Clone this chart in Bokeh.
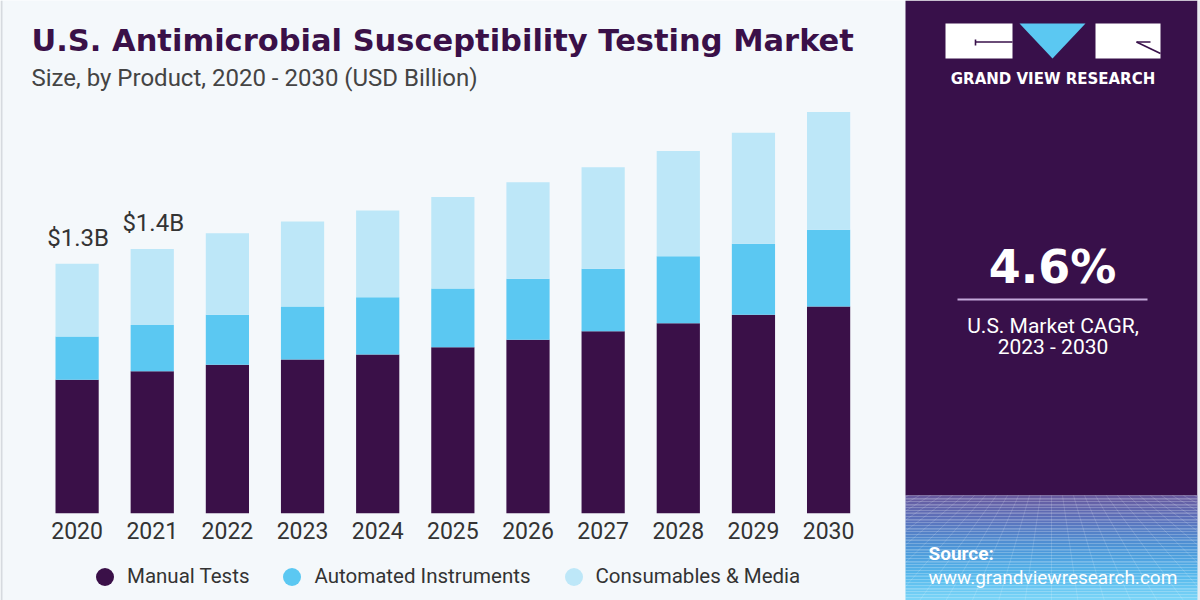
from bokeh.plotting import figure
from bokeh.models import (Range1d, Label, BoxAnnotation, PolyAnnotation, Legend,
                          LegendItem, ColumnDataSource)
from bokeh.core.properties import value
from bokeh.embed import file_html
from bokeh.resources import INLINE

# ---------------- data (USD Billion) ----------------
years = ["2020", "2021", "2022", "2023", "2024", "2025", "2026", "2027", "2028", "2029", "2030"]
manual = [0.702, 0.747, 0.781, 0.809, 0.835, 0.874, 0.913, 0.958, 1.000, 1.044, 1.088]
automated = [0.228, 0.244, 0.263, 0.279, 0.302, 0.309, 0.321, 0.328, 0.353, 0.374, 0.404]
consumables = [0.383, 0.400, 0.429, 0.447, 0.456, 0.481, 0.508, 0.535, 0.553, 0.584, 0.619]
series_names = ["Manual Tests", "Automated Instruments", "Consumables & Media"]
value_labels = ["$1.3B", "$1.4B"]

title_text = "U.S. Antimicrobial Susceptibility Testing Market"
subtitle_text = "Size, by Product, 2020 - 2030 (USD Billion)"
cagr_text = "4.6%"
cagr_label1 = "U.S. Market CAGR,"
cagr_label2 = "2023 - 2030"

# ---------------- styling / layout ----------------
colors = ["#3a1048", "#5bc8f2", "#bde7f8"]
BG = "#f4f8fb"
PANEL = "#38104a"
W, H = 1200, 600
BAR_X0 = 76.6      # pixel centre of first bar
BAR_STEP = 75.15   # pixel distance between bars
BASE_Y = 512.7     # pixel of baseline (from top)
PX_PER_B = 190.0   # pixels per billion

x_start = -BAR_X0 / BAR_STEP
x_end = x_start + W / BAR_STEP
y_start = -(H - BASE_Y) / PX_PER_B
y_end = y_start + H / PX_PER_B


def dx(px):
    return x_start + px / BAR_STEP


def dy(py):
    return y_start + (H - py) / PX_PER_B


p = figure(width=W, height=H, x_range=Range1d(x_start, x_end), y_range=Range1d(y_start, y_end),
           x_axis_type=None, y_axis_type=None, toolbar_location=None, output_backend="svg",
           min_border=0, title=None, background_fill_color=BG, border_fill_color=BG,
           outline_line_color=None)
p.xgrid.visible = False
p.ygrid.visible = False


def box(l, r, t, b, color, alpha=1.0):
    p.add_layout(BoxAnnotation(left=l, right=r, top=H - t, bottom=H - b,
                               left_units="screen", right_units="screen",
                               top_units="screen", bottom_units="screen",
                               fill_color=color, fill_alpha=alpha, line_color=None,
                               level="underlay"))


# borders
box(0, 2, 0, 600, "#d6dadf")
# right panel (purple part)
box(905, 1197, 0, 495, PANEL)
box(1197, 1200, 0, 600, "#e9ecf0")

# gradient at bottom of panel
stops = [(495, (104, 90, 158)), (518, (92, 112, 186)), (548, (76, 150, 216)),
         (575, (86, 184, 236)), (600, (124, 214, 248))]


def grad(py):
    for (y0, c0), (y1, c1) in zip(stops[:-1], stops[1:]):
        if y0 <= py <= y1:
            t = (py - y0) / (y1 - y0)
            return "#%02x%02x%02x" % tuple(int(round(a + (b - a) * t)) for a, b in zip(c0, c1))
    return "#%02x%02x%02x" % stops[-1][1]


yy = 495
while yy < 600:
    box(905, 1197, yy, min(yy + 3, 600), grad(yy + 1.5))
    yy += 3

# perspective mesh
mx, my = [], []
for hy in [499, 505, 512, 520, 529, 539, 550, 562, 575, 589]:
    mx.append([dx(905), dx(1197)])
    my.append([dy(hy), dy(hy)])
VPX, VPY = 1051.0, 420.0
for k in range(-30, 31):
    xa = VPX + k * 11
    x0, y0 = xa, 495.0
    x1 = VPX + (xa - VPX) * (600 - VPY) / (495 - VPY)
    y1 = 600.0

    def clipx(xl):
        return y0 + (y1 - y0) * (xl - x0) / (x1 - x0)

    seg = [(x0, y0), (x1, y1)]
    inside = [905 <= sx <= 1197 for sx, _ in seg]
    if not any(inside):
        continue
    if not inside[0]:
        bx = 905 if x0 < 905 else 1197
        seg[0] = (bx, clipx(bx))
    if not inside[1]:
        bx = 905 if x1 < 905 else 1197
        seg[1] = (bx, clipx(bx))
    mx.append([dx(seg[0][0]), dx(seg[1][0])])
    my.append([dy(seg[0][1]), dy(seg[1][1])])
p.multi_line(xs=mx, ys=my, line_color="white", line_alpha=0.15, line_width=1)

# logo
box(945, 1012, 23, 58, "white")
box(1095, 1160, 23, 58, "white")
p.add_layout(PolyAnnotation(xs=[1019, 1085, 1052], ys=[H - 23, H - 23, H - 58],
                            xs_units="screen", ys_units="screen", fill_color="#5bc8f2",
                            fill_alpha=1, line_color=None, level="underlay"))
p.multi_line(xs=[[dx(975), dx(1012)], [dx(975), dx(975)], [dx(1136), dx(1160)], [dx(1136), dx(1150)]],
             ys=[[dy(41.5), dy(41.5)], [dy(39), dy(45)], [dy(41.5), dy(53)], [dy(41.5), dy(41.5)]],
             line_color=PANEL, line_width=1.6)

# ---------------- bars ----------------
src = ColumnDataSource(dict(x=list(range(len(years))), manual=manual,
                            automated=automated, consumables=consumables))
p.vbar_stack(["manual", "automated", "consumables"], x="x", width=0.575, source=src,
             fill_color=colors, line_color=None)

totals = [m + a + c for m, a, c in zip(manual, automated, consumables)]

p.text(x=list(range(len(years))), y=[0] * len(years), text=years, y_offset=17.7,
       text_align="center", text_baseline="middle", text_font=value("Roboto"),
       text_font_size="23px", text_color="#333333")

p.text(x=list(range(len(value_labels))), y=totals[:len(value_labels)], text=value_labels,
       x_offset=1, y_offset=-25.7, text_align="center", text_baseline="middle",
       text_font=value("Roboto"), text_font_size="24px", text_color="#333333")

# legend (marker-only renderers, no visible data)
nan = float("nan")
dummies = [p.scatter(x=[nan], y=[nan], marker="circle", fill_color=c, line_color=None)
           for c in colors]
legend = Legend(items=[LegendItem(label=n, renderers=[r]) for n, r in zip(series_names, dummies)],
                orientation="horizontal", location=(82, 1.5), glyph_width=45, glyph_height=45,
                label_standoff=-6, spacing=20, padding=0, margin=0, border_line_color=None,
                background_fill_alpha=0, label_text_font="Roboto", label_text_font_size="20.5px",
                label_text_color="#333333")
p.add_layout(legend)


# ---------------- texts ----------------
def label(x, ymid, text, font, size, color, bold=False, align="left"):
    p.add_layout(Label(x=x, y=H - ymid, x_units="screen", y_units="screen", text=text,
                       text_font=font, text_font_size=size, text_color=color,
                       text_font_style="bold" if bold else "normal", text_align=align,
                       text_baseline="middle"))


label(31, 40, title_text, "DejaVu Sans", "30.5px", "#3a1048", bold=True)
label(31, 77, subtitle_text, "Roboto", "24px", "#444444")

label(1052.5, 78.5, "GRAND VIEW RESEARCH", "DejaVu Sans", "15px", "white", bold=True, align="center")
label(1052, 266, cagr_text, "DejaVu Sans", "46px", "white", bold=True, align="center")
box(957, 1147, 298, 300, "#c3a8da")
label(1052.5, 325, cagr_label1, "Roboto", "21px", "white", align="center")
label(1052.5, 346, cagr_label2, "Roboto", "21px", "white", align="center")

label(928, 553, "Source:", "Roboto", "19px", "white", bold=True)
label(928, 577, "www.grandviewresearch.com", "Roboto", "19px", "white")

open("out.html", "w").write(file_html(p, INLINE))
